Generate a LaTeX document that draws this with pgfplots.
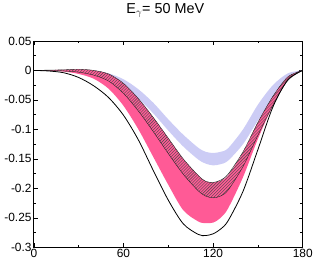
\documentclass[border=0pt]{standalone}
\usepackage{fontspec}
\setmainfont{Liberation Sans}
\usepackage{pgfplots}
\usepackage{pgfplotstable}
\pgfplotsset{compat=1.18}
\usepgfplotslibrary{fillbetween}
\usetikzlibrary{patterns}
\definecolor{pinkb}{RGB}{255,90,150}
\definecolor{lavb}{RGB}{204,204,245}
\pgfplotstableread{
x blk pu pl lu ll hu hl
0 0 0 0 0 0 0 0
10 -0.001 0.0005 -0.0005 0 0 0.0005 -0.0005
20 -0.004 0.001 -0.002 0.0005 -0.001 0.001 -0.001
30 -0.012 0.002 -0.006 0.001 -0.002 0.002 -0.003
40 -0.026 0.000 -0.014 -0.001 -0.006 0 -0.008
50 -0.046 -0.006 -0.031 -0.005 -0.013 -0.006 -0.018
60 -0.076 -0.022 -0.060 -0.015 -0.027 -0.022 -0.039
70 -0.118 -0.048 -0.100 -0.032 -0.048 -0.048 -0.069
80 -0.170 -0.080 -0.147 -0.055 -0.073 -0.080 -0.104
90 -0.220 -0.115 -0.194 -0.083 -0.102 -0.115 -0.141
100 -0.260 -0.150 -0.237 -0.109 -0.129 -0.150 -0.176
110 -0.278 -0.178 -0.256 -0.131 -0.151 -0.178 -0.204
115 -0.280 -0.188 -0.259 -0.138 -0.158 -0.188 -0.213
120 -0.277 -0.190 -0.258 -0.140 -0.161 -0.190 -0.216
125 -0.269 -0.187 -0.250 -0.138 -0.159 -0.186 -0.213
130 -0.255 -0.178 -0.234 -0.132 -0.153 -0.176 -0.203
140 -0.205 -0.139 -0.181 -0.100 -0.125 -0.138 -0.163
150 -0.134 -0.088 -0.116 -0.058 -0.085 -0.088 -0.110
160 -0.062 -0.044 -0.060 -0.025 -0.050 -0.044 -0.059
170 -0.016 -0.011 -0.016 -0.005 -0.014 -0.011 -0.017
180 0 0 0 0 0 0 0
}\data
\begin{document}
\begin{tikzpicture}
\begin{axis}[
  name=ax,
  scale only axis,
  width=270bp, height=207.3bp,
  xmin=0, xmax=180, ymin=-0.3, ymax=0.05,
  xtick={0,60,120,180},
  minor xtick={30,90,150},
  ytick={-0.3,-0.25,-0.2,-0.15,-0.1,-0.05,0,0.05},
  yticklabels={-0.3,-0.25,-0.2,-0.15,-0.1,-0.05,0,0.05},
  xticklabels={0,60,120,180},
  minor y tick num=1,
  tick align=inside,
  major tick length=4bp, minor tick length=2.5bp,
  tick style={black, line width=0.6pt},
  axis line style={line width=0.8pt},
  ticklabel style={font=\fontsize{12}{13}\selectfont},
  xticklabel style={yshift=1.5bp},
  yticklabel style={xshift=1.2bp},
  title={E$_{\gamma}$= 50 MeV},
  title style={at={(0.5,1)}, anchor=base, yshift=21.7bp, xshift=-3bp, font=\fontsize{14.5}{15}\selectfont},
  /pgf/number format/assume math mode=true,
]
\addplot[draw=none, name path=lu, smooth] table[x=x,y=lu]{\data};
\addplot[draw=none, name path=ll, smooth] table[x=x,y=ll]{\data};
\addplot[lavb, draw=none] fill between[of=lu and ll];
\addplot[draw=none, name path=pu, smooth] table[x=x,y=pu]{\data};
\addplot[draw=none, name path=pl, smooth] table[x=x,y=pl]{\data};
\addplot[pinkb, draw=none] fill between[of=pu and pl];
\addplot[draw=black!85, line width=0.4pt, name path=hu, smooth] table[x=x,y=hu]{\data};
\addplot[draw=black!85, line width=0.4pt, name path=hl, smooth] table[x=x,y=hl]{\data};
\addplot[pattern=north east lines, pattern color=black!70, draw=none] fill between[of=hu and hl];
\addplot[black, line width=0.8pt, smooth] table[x=x,y=blk]{\data};
\end{axis}
\path ([shift={(-34bp,-18bp)}]ax.south west) rectangle ([shift={(12bp,36.7bp)}]ax.north east);
\end{tikzpicture}
\end{document}
